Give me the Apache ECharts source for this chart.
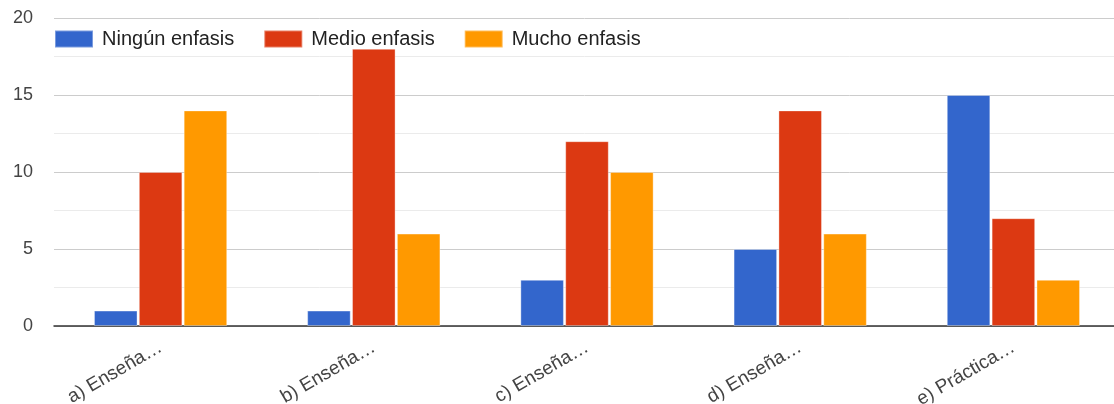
<!DOCTYPE html>
<html><head><meta charset="utf-8">
<script src="https://cdn.jsdelivr.net/npm/echarts@6/dist/echarts.min.js"></script>
<style>html,body{margin:0;padding:0;background:#fff}#c{width:1114px;height:404px}</style>
</head><body><div id="c"></div>
<script>
const categories = ["a) Enseña…", "b) Enseña…", "c) Enseña…", "d) Enseña…", "e) Práctica…"];
const seriesNames = ["Ningún enfasis", "Medio enfasis", "Mucho enfasis"];
const ninguno = [1, 1, 3, 5, 15];
const medio = [10, 18, 12, 14, 7];
const mucho = [14, 6, 10, 6, 3];
const colors = ["#3366cc", "#dc3912", "#ff9900"];
const values = [ninguno, medio, mucho];

const chart = echarts.init(document.getElementById('c'));
chart.setOption({
  animation: false,
  color: colors,
  textStyle: {fontFamily: 'Liberation Sans, Arial, sans-serif'},
  legend: {
    left: 49, top: 24, itemWidth: 38, itemHeight: 17, itemGap: 29,
    icon: 'rect',
    textStyle: {fontSize: 20, color: '#222', padding: [0, 0, 0, 4]},
    data: seriesNames
  },
  grid: {left: 54, width: 1066, top: 18, bottom: 78, containLabel: false, outerBoundsMode: 'none'},
  xAxis: {
    type: 'category', data: categories,
    axisLine: {lineStyle: {color: '#333', width: 1.5}},
    axisTick: {show: false},
    axisLabel: {rotate: 30, fontSize: 19, color: '#444', margin: 20, interval: 0}
  },
  yAxis: {
    type: 'value', min: 0, max: 20, interval: 5,
    axisLine: {show: false}, axisTick: {show: false},
    axisLabel: {fontSize: 18, color: '#444', margin: 21},
    splitLine: {lineStyle: {color: '#cccccc', width: 1}},
    minorTick: {show: false, splitNumber: 2},
    minorSplitLine: {show: true, lineStyle: {color: '#ebebeb', width: 1}}
  },
  series: seriesNames.map((n, i) => ({
    name: n, type: 'bar', data: values[i],
    barGap: '3%', barCategoryGap: '37.5%',
    itemStyle: {color: colors[i], borderColor: 'rgba(255,255,255,0.35)', borderWidth: 1}
  }))
});
</script></body></html>
